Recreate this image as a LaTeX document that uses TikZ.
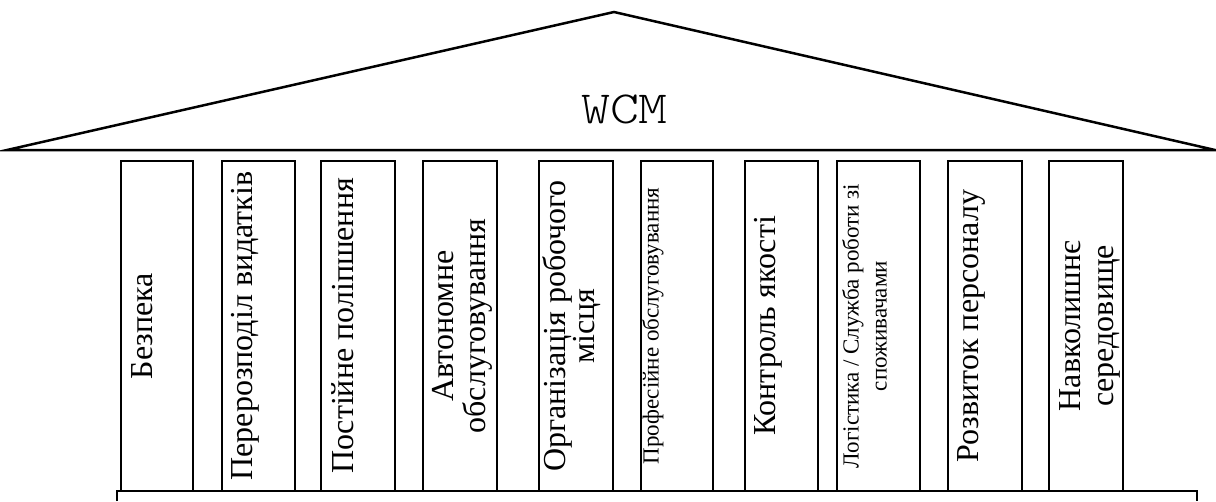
\documentclass[tikz,border=0pt]{standalone}
\usepackage{fontspec}
\usepackage{graphicx}
\setmainfont{Liberation Serif}
\newfontfamily\wcmfont{lmmonolt10-regular.otf}
\usetikzlibrary{calc}
\tikzset{
  pillar/.style={draw, line width=2pt, minimum height=330pt, inner sep=0pt},
  ptext/.style={anchor=north, rotate=90, inner sep=0pt, align=center},
  bigtext/.style={font=\fontsize{32}{32}\selectfont},
  smalltext/.style={font=\fontsize{23}{28}\selectfont},
}
\begin{document}
\begin{tikzpicture}[x=1pt,y=1pt]
\useasboundingbox (0,0) rectangle (1216,-501);
% roof
\draw[line width=2.5pt, line join=miter] (7,-150) -- (614,-12) -- (1215,-150) -- cycle;
\node[font=\wcmfont\fontsize{46}{46}\selectfont, inner sep=0pt] (wcm) at (624.5,-109.5) {\scalebox{1.2}[1]{WCM}};
% base
\draw[line width=2pt] (117,-501) -- (117,-490.5) -- (1197,-490.5) -- (1197,-501);
% pillars
\node[pillar, minimum width=72pt] (p1) at (157,-326) {};
\node[pillar, minimum width=73pt] (p2) at (258.5,-326) {};
\node[pillar, minimum width=74pt] (p3) at (358,-326) {};
\node[pillar, minimum width=74pt] (p4) at (460,-326) {};
\node[pillar, minimum width=74pt] (p5) at (576,-326) {};
\node[pillar, minimum width=72pt] (p6) at (677,-326) {};
\node[pillar, minimum width=73pt] (p7) at (781.5,-326) {};
\node[pillar, minimum width=83pt] (p8) at (878.5,-326) {};
\node[pillar, minimum width=74pt] (p9) at (985,-326) {};
\node[pillar, minimum width=74pt] (p10) at (1086,-326) {};
% texts
\node[ptext, bigtext] (t1) at ($(p1.west)+(11,0)$) {Безпека};
\node[ptext, bigtext] (t2) at ($(p2.west)+(10,0)$) {Перерозподіл видатків};
\node[ptext, bigtext] (t3) at ($(p3.west)+(11,0)$) {Постійне поліпшення};
\node[ptext, font=\fontsize{32}{32}\selectfont] (t4) at ($(p4.west)+(10,0)$) {Автономне\\обслуговування};
\node[ptext, font=\fontsize{32}{29}\selectfont] (t5) at ($(p5.west)+(4,0)$) {Організація робочого\\місця};
\node[ptext, smalltext] (t6) at ($(p6.west)+(2,0)$) {Професійне обслуговування};
\node[ptext, bigtext] (t7) at ($(p7.west)+(10,0)$) {Контроль якості};
\node[ptext, smalltext] (t8) at ($(p8.west)+(6,0)$) {Логістика / Служба роботи зі\\споживачами};
\node[ptext, bigtext] (t9) at ($(p9.west)+(10,0)$) {Розвиток персоналу};
\node[ptext, font=\fontsize{32}{33}\selectfont] (t10) at ($(p10.west)+(11,0)$) {Навколишнє\\середовище};
\end{tikzpicture}
\end{document}
